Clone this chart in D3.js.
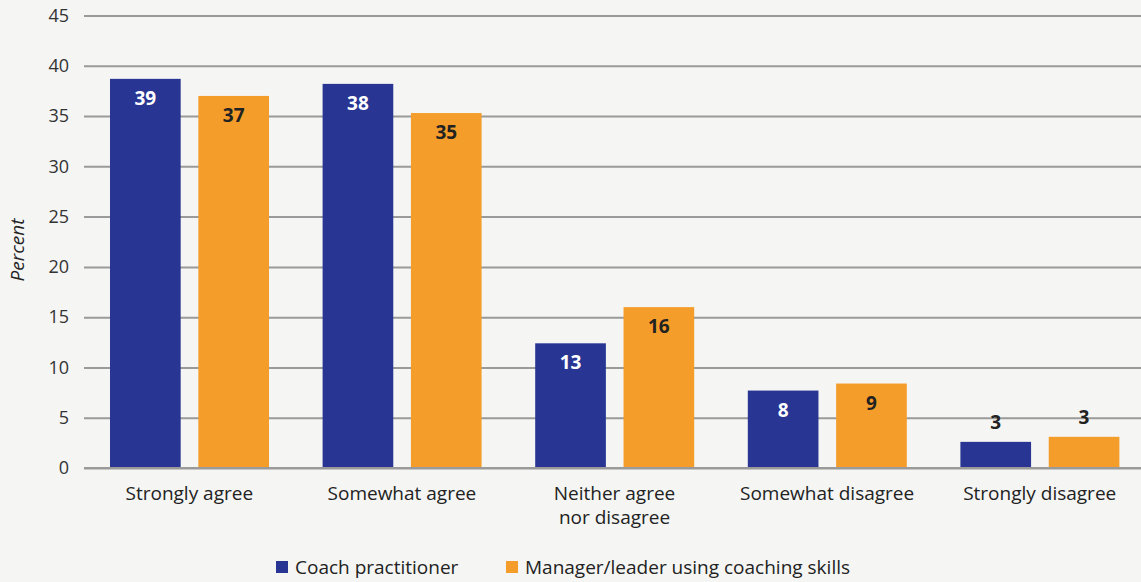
<!DOCTYPE html>
<html><head><meta charset="utf-8">
<script src="https://cdn.jsdelivr.net/npm/d3@7"></script>
<style>
html,body{margin:0;padding:0;background:#f5f5f3;}
text{font-family:"Open Sans",sans-serif;}
</style></head>
<body>
<svg id="chart" width="1141" height="582"></svg>
<script>
const categories = ["Strongly agree", "Somewhat agree", "Neither agree\nnor disagree", "Somewhat disagree", "Strongly disagree"];
const seriesNames = ["Coach practitioner", "Manager/leader using coaching skills"];
const coachValues = [38.7, 38.2, 12.4, 7.7, 2.6];
const managerValues = [37.0, 35.3, 16.0, 8.4, 3.1];
const coachLabels = ["39", "38", "13", "8", "3"];
const managerLabels = ["37", "35", "16", "9", "3"];
const yTicks = [0, 5, 10, 15, 20, 25, 30, 35, 40, 45];
const colors = ["#283593", "#f59d2a"];

const svg = d3.select("#chart");
const y = d3.scaleLinear().domain([0, 45]).range([468, 15.5]);
const x0 = d3.scaleBand().domain(categories).range([83, 1146]).padding(0);
const x1 = d3.scaleBand().domain(seriesNames).range([27, 186]).paddingInner(0.2);

// gridlines
const yAxis = d3.axisLeft(y).tickValues(yTicks).tickSize(-(1141 - 84)).tickPadding(15);
const gy = svg.append("g").attr("transform", "translate(84,0)").call(yAxis);
gy.select(".domain").remove();
gy.selectAll(".tick line").attr("stroke", "#9a9a9a").attr("stroke-width", 2);
gy.selectAll(".tick text").attr("font-size", 18).attr("fill", "#333").attr("font-family", "Open Sans");

const data = categories.map((c, i) => ({
  cat: c,
  vals: [
    {s: seriesNames[0], v: coachValues[i], l: coachLabels[i]},
    {s: seriesNames[1], v: managerValues[i], l: managerLabels[i]}
  ]
}));

const groups = svg.append("g").selectAll("g").data(data).join("g")
  .attr("transform", d => `translate(${x0(d.cat)},0)`);

groups.selectAll("rect").data(d => d.vals).join("rect")
  .attr("x", d => x1(d.s))
  .attr("y", d => y(d.v))
  .attr("width", x1.bandwidth())
  .attr("height", d => y(0) - y(d.v))
  .attr("fill", (d, i) => colors[i]);

groups.selectAll("text.val").data(d => d.vals).join("text")
  .attr("class", "val")
  .attr("x", d => x1(d.s) + x1.bandwidth() / 2)
  .attr("y", d => d.v < 5 ? y(d.v) - 13 : y(d.v) + 26)
  .attr("text-anchor", "middle")
  .attr("font-size", 19)
  .attr("font-weight", "bold")
  .attr("fill", (d, i) => (i === 0 && d.v >= 5) ? "#ffffff" : "#222")
  .text(d => d.l);

// baseline axis
svg.append("line").attr("x1", 84).attr("x2", 1141).attr("y1", y(0)).attr("y2", y(0))
  .attr("stroke", "#9a9a9a").attr("stroke-width", 2);

// category labels
const catG = svg.append("g");
categories.forEach(c => {
  const t = catG.append("text")
    .attr("x", x0(c) + x0.bandwidth() / 2)
    .attr("y", 500)
    .attr("text-anchor", "middle")
    .attr("font-size", 19)
    .attr("fill", "#222");
  c.split("\n").forEach((line, j) => {
    t.append("tspan").attr("x", x0(c) + x0.bandwidth() / 2).attr("dy", j === 0 ? 0 : 24).text(line);
  });
});

// y-axis title
svg.append("text")
  .attr("transform", "translate(24,250) rotate(-90)")
  .attr("text-anchor", "middle")
  .attr("font-size", 19)
  .attr("font-style", "italic")
  .attr("fill", "#222")
  .text("Percent");

// legend
const legendX = [276, 506];
seriesNames.forEach((s, i) => {
  svg.append("rect").attr("x", legendX[i]).attr("y", 561).attr("width", 12).attr("height", 12).attr("fill", colors[i]);
  svg.append("text").attr("x", legendX[i] + 19).attr("y", 574)
    .attr("font-size", 19).attr("fill", "#222").text(s);
});
</script>
</body></html>
